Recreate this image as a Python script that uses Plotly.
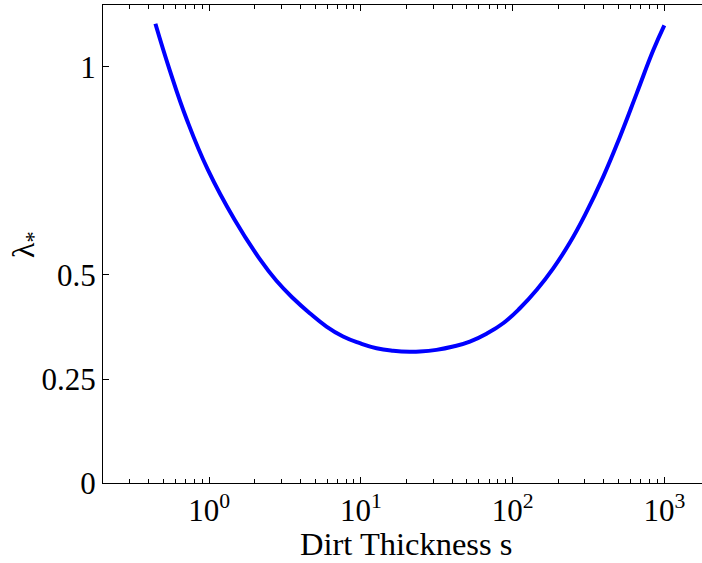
import math
import plotly.graph_objects as go

# Data
s_vals = [0.443, 0.551, 0.716, 0.985, 1.477, 2.16, 2.78, 3.58, 4.61, 5.94, 7.64,
          9.85, 12.69, 16.33, 21.0, 24.5, 31.5, 40.6, 52.3, 67.4, 86.7, 111.7,
          143.9, 185.3, 238.7, 299.7, 395.5, 509.6, 656.8, 845.3, 1000]
lam_vals = [1.104, 0.992, 0.872, 0.752, 0.632, 0.538, 0.486, 0.444, 0.408, 0.376, 0.352,
            0.336, 0.324, 0.318, 0.3155, 0.316, 0.320, 0.328, 0.340, 0.359, 0.384, 0.420,
            0.464, 0.516, 0.578, 0.644, 0.736, 0.832, 0.936, 1.040, 1.100]

x_tick_vals = [1, 10, 100, 1000]
x_tick_text = ["10<sup>0</sup>", "10<sup>1</sup>", "10<sup>2</sup>", "10<sup>3</sup>"]
x_minor_vals = [0.2, 0.3, 0.4, 0.5, 0.6, 0.7, 0.8, 0.9,
                2, 3, 4, 5, 6, 7, 8, 9,
                20, 30, 40, 50, 60, 70, 80, 90,
                200, 300, 400, 500, 600, 700, 800, 900]
y_tick_vals = [0, 0.25, 0.5, 1]
y_tick_text = ["0", "0.25", "0.5", "1"]

FONT = "Liberation Serif"
# The axes box extends slightly past the right edge of the visible 702 px window
W, H = 710, 563
L, R, T, B = 103, 0, 4.5, 79.5

fig = go.Figure()
fig.add_trace(go.Scatter(
    x=s_vals, y=lam_vals, mode="lines",
    line=dict(color="#0000FF", width=4, shape="spline", smoothing=1.3),
    showlegend=False, hoverinfo="skip"))

fig.update_layout(
    width=W, height=H,
    margin=dict(l=L, r=R, t=T, b=B, pad=0, autoexpand=False),
    paper_bgcolor="white", plot_bgcolor="white",
    font=dict(family=FONT, size=31, color="black"),
    xaxis=dict(
        type="log", range=[math.log10(0.2), math.log10(2000)], automargin=False,
        tickmode="array", tickvals=x_tick_vals, ticktext=x_tick_text,
        ticks="inside", ticklen=6, tickwidth=1, tickcolor="black",
        showline=True, linecolor="black", linewidth=1.3, mirror="allticks",
        showgrid=False, zeroline=False,
        tickfont=dict(family=FONT, size=31, color="black"),
        minor=dict(tickmode="array", tickvals=x_minor_vals, ticks="inside",
                   ticklen=3.5, tickwidth=1, tickcolor="black", showgrid=False),
    ),
    yaxis=dict(
        range=[0, 1.149], automargin=False,
        tickmode="array", tickvals=y_tick_vals, ticktext=y_tick_text,
        ticks="inside", ticklen=6, tickwidth=1, tickcolor="black",
        showline=True, linecolor="black", linewidth=1.3, mirror="allticks",
        showgrid=False, zeroline=False,
        tickfont=dict(family=FONT, size=31, color="black"),
    ),
    annotations=[
        dict(text="Dirt Thickness s", xref="paper", yref="paper",
             x=(406 - L) / (W - L - R), y=(483.5 - 545) / (H - T - B),
             xanchor="center", yanchor="middle", showarrow=False,
             font=dict(family=FONT, size=32.5, color="black")),
        dict(text="λ<sub>*</sub>", xref="paper", yref="paper",
             x=(26 - L) / (W - L - R), y=(483.5 - 245) / (H - T - B),
             xanchor="center", yanchor="middle", showarrow=False, textangle=-90,
             font=dict(family=FONT, size=32, color="black")),
    ],
)

fig.write_html(
    "out.html",
    config={"displayModeBar": False},
    post_script="document.body.style.margin='0';document.body.style.overflow='hidden';",
)
